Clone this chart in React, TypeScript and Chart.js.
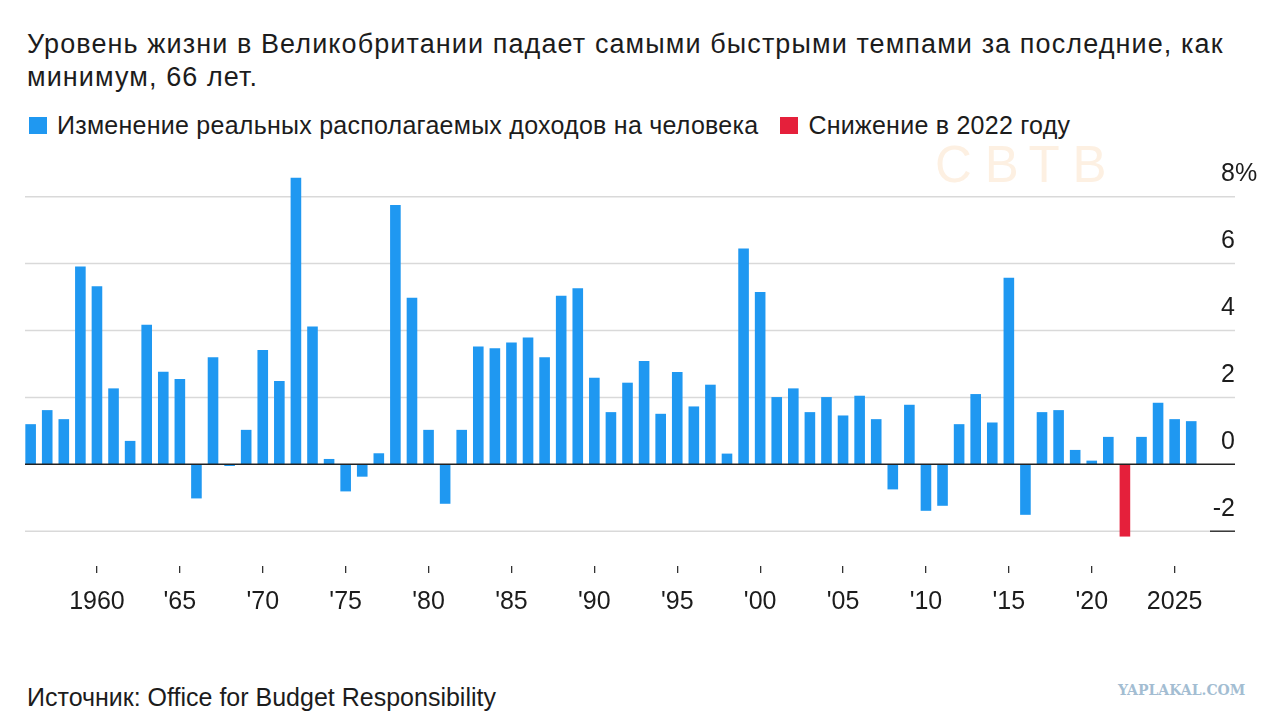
import React, { useEffect, useRef } from "react";
import { Chart, registerables } from "chart.js";

Chart.register(...registerables);

const YEARS = [
  1956, 1957, 1958, 1959, 1960, 1961, 1962, 1963, 1964, 1965,
  1966, 1967, 1968, 1969, 1970, 1971, 1972, 1973, 1974, 1975,
  1976, 1977, 1978, 1979, 1980, 1981, 1982, 1983, 1984, 1985,
  1986, 1987, 1988, 1989, 1990, 1991, 1992, 1993, 1994, 1995,
  1996, 1997, 1998, 1999, 2000, 2001, 2002, 2003, 2004, 2005,
  2006, 2007, 2008, 2009, 2010, 2011, 2012, 2013, 2014, 2015,
  2016, 2017, 2018, 2019, 2020, 2021, 2022, 2023, 2024, 2025,
  2026,
];

const VALUES = [
  1.2, 1.62, 1.35, 5.91, 5.32, 2.27, 0.7, 4.17, 2.77, 2.55,
  -1.02, 3.2, -0.05, 1.03, 3.42, 2.49, 8.57, 4.12, 0.16, -0.81,
  -0.37, 0.33, 7.75, 4.98, 1.03, -1.18, 1.03, 3.52, 3.47, 3.64,
  3.79, 3.2, 5.04, 5.26, 2.59, 1.56, 2.44, 3.09, 1.51, 2.76,
  1.73, 2.38, 0.32, 6.45, 5.15, 2.01, 2.27, 1.56, 2.01, 1.46,
  2.05, 1.35, -0.75, 1.78, -1.39, -1.24, 1.2, 2.1, 1.25, 5.58,
  -1.51, 1.56, 1.62, 0.43, 0.11, 0.82, -2.16, 0.82, 1.84, 1.35,
  1.29,
];

const HIGHLIGHT_YEARS = [2022];

const TICK_YEARS = [1960, 1965, 1970, 1975, 1980, 1985, 1990, 1995, 2000, 2005, 2010, 2015, 2020, 2025];
const TICK_LABELS = ["1960", "'65", "'70", "'75", "'80", "'85", "'90", "'95", "'00", "'05", "'10", "'15", "'20", "2025"];

const Y_TICKS = [8, 6, 4, 2, 0, -2];

const TITLE_LINES = [
  "Уровень жизни в Великобритании падает самыми быстрыми темпами за последние, как",
  "минимум, 66 лет.",
];
const LEGEND_MAIN = "Изменение реальных располагаемых доходов на человека";
const LEGEND_HIGHLIGHT = "Снижение в 2022 году";
const SOURCE = "Источник: Office for Budget Responsibility";

const BLUE = "#1f98f1";
const RED = "#e5203b";
const TEXT = "#1c1c1c";
const GRID = "#d9d9d9";
const FONT = '"Liberation Sans", Arial, Helvetica, sans-serif';

const gridPlugin = {
  id: "customGrid",
  beforeDatasetsDraw(chart: any) {
    const { ctx, chartArea, scales } = chart;
    const y = scales.y;
    ctx.save();
    ctx.lineWidth = 1.5;
    for (const v of Y_TICKS) {
      if (v === 0) continue;
      const py = y.getPixelForValue(v);
      const isLast = v === Y_TICKS[Y_TICKS.length - 1];
      ctx.strokeStyle = GRID;
      ctx.beginPath();
      ctx.moveTo(chartArea.left, py);
      ctx.lineTo(isLast ? chartArea.right - 25 : chartArea.right, py);
      ctx.stroke();
      if (isLast) {
        ctx.strokeStyle = "#333";
        ctx.beginPath();
        ctx.moveTo(chartArea.right - 25, py);
        ctx.lineTo(chartArea.right, py);
        ctx.stroke();
      }
    }
    ctx.restore();
  },
  afterDatasetsDraw(chart: any) {
    const { ctx, chartArea, scales } = chart;
    const y = scales.y;
    ctx.save();
    const p0 = y.getPixelForValue(0);
    ctx.strokeStyle = "#222";
    ctx.lineWidth = 1.6;
    ctx.beginPath();
    ctx.moveTo(chartArea.left, p0);
    ctx.lineTo(chartArea.right, p0);
    ctx.stroke();

    ctx.fillStyle = TEXT;
    ctx.font = `25px ${FONT}`;
    ctx.textBaseline = "alphabetic";
    Y_TICKS.forEach((v, i) => {
      const py = y.getPixelForValue(v) - 15.5;
      ctx.textAlign = "right";
      ctx.fillText(String(v), chartArea.right, py);
      if (i === 0) {
        ctx.textAlign = "left";
        ctx.fillText("%", chartArea.right, py);
      }
    });
    ctx.restore();
  },
};

export default function App() {
  const canvasRef = useRef<HTMLCanvasElement | null>(null);

  useEffect(() => {
    const canvas = canvasRef.current;
    if (!canvas) return;
    const chart = new Chart(canvas, {
      type: "bar",
      data: {
        datasets: [
          {
            data: YEARS.map((yr, i) => ({ x: yr, y: VALUES[i] })),
            backgroundColor: YEARS.map((yr) => (HIGHLIGHT_YEARS.includes(yr) ? RED : BLUE)),
            borderWidth: 0,
            barPercentage: 0.64,
            categoryPercentage: 1,
          },
        ],
      },
      options: {
        responsive: false,
        animation: false,
        layout: { padding: { left: 25, right: 45, top: 10, bottom: 0 } },
        plugins: {
          legend: { display: false },
          tooltip: { enabled: false },
        },
        scales: {
          x: {
            type: "linear",
            min: 1955.66,
            max: 2028.64,
            offset: false,
            afterBuildTicks: (scale: any) => {
              scale.ticks = TICK_YEARS.map((v) => ({ value: v }));
            },
            afterFit: (scale: any) => {
              scale.height = 84;
            },
            ticks: {
              autoSkip: false,
              maxRotation: 0,
              padding: 14,
              color: TEXT,
              font: { family: FONT, size: 25 },
              callback: (_v: any, index: number) => TICK_LABELS[index] ?? "",
            },
            grid: {
              offset: false,
              drawOnChartArea: false,
              drawTicks: true,
              tickLength: 7,
              color: "#333",
              lineWidth: 1.3,
            },
            border: { display: false },
          },
          y: {
            display: false,
            min: -3.04,
            max: 9.097,
          },
        },
      },
      plugins: [gridPlugin],
    } as any);
    return () => chart.destroy();
  }, []);

  return (
    <div
      style={{
        position: "absolute",
        left: 0,
        top: 0,
        width: 1280,
        height: 720,
        background: "#fff",
        fontFamily: FONT,
        color: TEXT,
        overflow: "hidden",
      }}
    >
      <div
        style={{
          position: "absolute",
          left: 935,
          top: 135,
          fontSize: 51,
          letterSpacing: 13,
          color: "#fdf0e2",
          fontWeight: 300,
          whiteSpace: "nowrap",
        }}
      >
        СВТВ
      </div>
      <div
        style={{
          position: "absolute",
          left: 27,
          top: 28,
          fontSize: 27,
          letterSpacing: 1.1,
          lineHeight: "33px",
          whiteSpace: "nowrap",
        }}
      >
        {TITLE_LINES.map((l, i) => (
          <div key={i}>{l}</div>
        ))}
      </div>
      <div
        style={{
          position: "absolute",
          left: 29,
          top: 110,
          fontSize: 25,
          letterSpacing: 0.25,
          lineHeight: "30px",
          whiteSpace: "nowrap",
          display: "flex",
          alignItems: "center",
        }}
      >
        <span style={{ display: "inline-block", width: 18, height: 17, background: BLUE, marginRight: 10 }} />
        <span>{LEGEND_MAIN}</span>
        <span style={{ display: "inline-block", width: 18, height: 17, background: RED, marginLeft: 22, marginRight: 10 }} />
        <span>{LEGEND_HIGHLIGHT}</span>
      </div>
      <canvas
        ref={canvasRef}
        width={1280}
        height={500}
        style={{ position: "absolute", left: 0, top: 150, width: 1280, height: 500 }}
      />
      <div style={{ position: "absolute", left: 27, top: 682, fontSize: 25, lineHeight: "30px", whiteSpace: "nowrap" }}>
        {SOURCE}
      </div>
      <div
        style={{
          position: "absolute",
          left: 1118,
          top: 682,
          fontSize: 14,
          fontWeight: 700,
          fontFamily: '"DejaVu Serif", serif',
          color: "#a3bdd2",
          whiteSpace: "nowrap",
        }}
      >
        YAPLAKAL.COM
      </div>
    </div>
  );
}
